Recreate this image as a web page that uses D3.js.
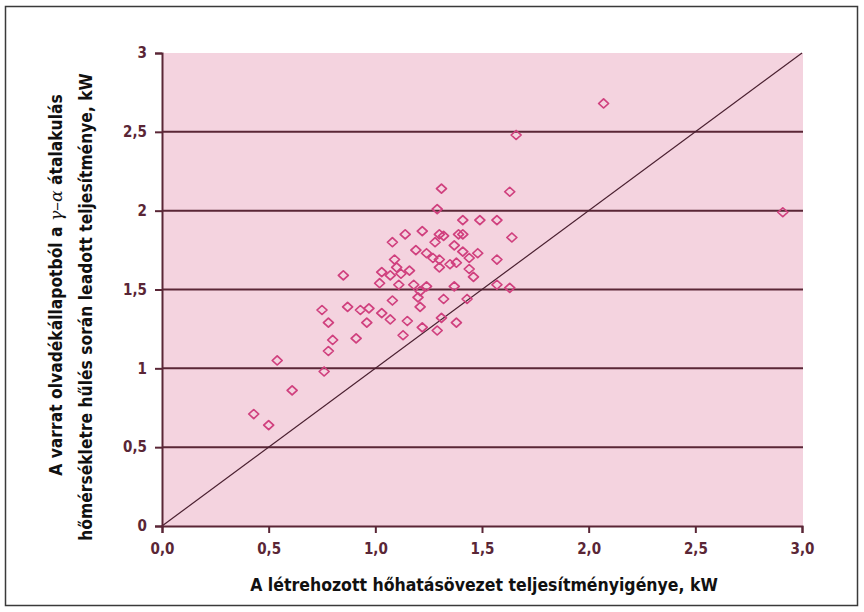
<!DOCTYPE html>
<html>
<head>
<meta charset="utf-8">
<script src="https://cdn.jsdelivr.net/npm/d3@7"></script>
<style>
  html, body { margin: 0; padding: 0; background: #ffffff; }
  svg { display: block; }
</style>
</head>
<body>
<svg id="chart" width="864" height="612"></svg>
<script>
// Measured points (x: heat-affected zone power demand, kW; y: released power, kW)
const xValues = [0.43,0.50,0.54,0.61,0.76,0.78,0.80,0.75,0.78,0.85,0.87,0.91,0.93,0.97,0.96,1.03,1.07,1.08,1.15,1.13,1.21,1.22,1.02,1.11,1.03,1.07,1.12,1.08,1.09,1.10,1.14,1.16,1.18,1.19,1.21,1.20,1.22,1.24,1.24,1.27,1.28,1.29,1.30,1.30,1.32,1.30,1.31,1.31,1.32,1.35,1.37,1.37,1.38,1.38,1.39,1.41,1.41,1.41,1.43,1.44,1.44,1.46,1.48,1.49,1.57,1.57,1.57,1.63,1.64,1.63,1.66,2.07,2.91,1.29];
const yValues = [0.71,0.64,1.05,0.86,0.98,1.11,1.18,1.37,1.29,1.59,1.39,1.19,1.37,1.38,1.29,1.35,1.31,1.43,1.30,1.21,1.39,1.26,1.54,1.53,1.61,1.59,1.60,1.80,1.69,1.64,1.85,1.62,1.53,1.75,1.49,1.45,1.87,1.73,1.52,1.70,1.80,2.01,1.64,1.85,1.84,1.69,2.14,1.32,1.44,1.66,1.52,1.78,1.29,1.67,1.85,1.74,1.85,1.94,1.44,1.63,1.70,1.58,1.73,1.94,1.53,1.94,1.69,2.12,1.83,1.51,2.48,2.68,1.99,1.24];
const xTicks = [0, 0.5, 1, 1.5, 2, 2.5, 3];
const xTickLabels = ["0,0","0,5","1,0","1,5","2,0","2,5","3,0"];
const yTicks = [0, 0.5, 1, 1.5, 2, 2.5, 3];
const yTickLabels = ["0","0,5","1","1,5","2","2,5","3"];
const gridValues = [0.5, 1, 1.5, 2, 2.5];
const diagonal = [[0, 0], [3, 3]];
const yTitleLines = ["A varrat olvadékállapotból a ", "γ–α", " átalakulás"];
const yTitle2 = "hőmérsékletre hűlés során leadott teljesítménye, kW";
const xTitle = "A létrehozott hőhatásövezet teljesítményigénye, kW";

const svg = d3.select("#chart");
const plot = { left: 162, right: 802, top: 53, bottom: 526 };

const x = d3.scaleLinear().domain([0, 3]).range([plot.left, plot.right]);
const y = d3.scaleLinear().domain([0, 3]).range([plot.bottom, plot.top]);

const font = "'DejaVu Sans Condensed', 'DejaVu Sans', sans-serif";

// outer frame
svg.append("rect").attr("x", 5.5).attr("y", 6.5).attr("width", 852).attr("height", 599)
  .attr("fill", "#fff").attr("stroke", "#3a3a3a").attr("stroke-width", 1.5);

// plot background
svg.append("rect").attr("x", plot.left).attr("y", plot.top)
  .attr("width", plot.right - plot.left + 1).attr("height", plot.bottom - plot.top)
  .attr("fill", "#f4d3df");

const axisColor = "#5a2636";

// gridlines
svg.append("g").selectAll("line").data(gridValues).join("line")
  .attr("x1", plot.left).attr("x2", plot.right + 1)
  .attr("y1", d => y(d)).attr("y2", d => y(d))
  .attr("stroke", axisColor).attr("stroke-width", 2);

// diagonal y = x
svg.append("path").datum(diagonal)
  .attr("d", d3.line().x(d => x(d[0])).y(d => y(d[1])))
  .attr("stroke", "#4a2030").attr("stroke-width", 1.2).attr("fill", "none");

// axes
const xAxis = d3.axisBottom(x).tickValues(xTicks)
  .tickFormat((d, i) => xTickLabels[i]).tickSize(7).tickPadding(10);
const gx = svg.append("g").attr("transform", `translate(0,${plot.bottom})`).call(xAxis);
const yAxis = d3.axisLeft(y).tickValues(yTicks)
  .tickFormat((d, i) => yTickLabels[i]).tickSize(7).tickPadding(8);
const gy = svg.append("g").attr("transform", `translate(${plot.left},0)`).call(yAxis);

[gx, gy].forEach(g => {
  g.select(".domain").attr("stroke", axisColor).attr("stroke-width", 2);
  g.selectAll(".tick line").attr("stroke", axisColor).attr("stroke-width", 2);
  g.selectAll(".tick text").attr("fill", "#5a2636")
    .attr("font-family", font).attr("font-weight", "bold").attr("font-size", 15);
});

// points: open diamonds
const diamond = d3.symbol().type(d3.symbolDiamond2).size(52);
svg.append("g").selectAll("path").data(xValues.map((v, i) => [v, yValues[i]])).join("path")
  .attr("d", diamond)
  .attr("transform", d => `translate(${x(d[0])},${y(d[1])}) scale(1.1,1)`)
  .attr("fill", "none").attr("stroke", "#d0407e").attr("stroke-width", 1.6)
  .attr("stroke-linejoin", "round");

// x title
svg.append("text").attr("x", 484).attr("y", 591).attr("text-anchor", "middle")
  .attr("font-family", font).attr("font-weight", "bold").attr("font-size", 17.5)
  .attr("fill", "#111").text(xTitle);

// y title (two lines, rotated)
const yt = svg.append("text").attr("transform", "translate(62,285) rotate(-90)")
  .attr("text-anchor", "middle")
  .attr("font-family", font).attr("font-weight", "bold").attr("font-size", 17.3).attr("fill", "#111");
yt.append("tspan").text(yTitleLines[0]);
yt.append("tspan").attr("font-family", "'DejaVu Serif', serif").attr("font-style", "italic")
  .attr("font-weight", "normal").text(yTitleLines[1]);
yt.append("tspan").text(yTitleLines[2]);

svg.append("text").attr("transform", "translate(92,307) rotate(-90)")
  .attr("text-anchor", "middle")
  .attr("font-family", font).attr("font-weight", "bold").attr("font-size", 17.3).attr("fill", "#111")
  .text(yTitle2);
</script>
</body>
</html>
